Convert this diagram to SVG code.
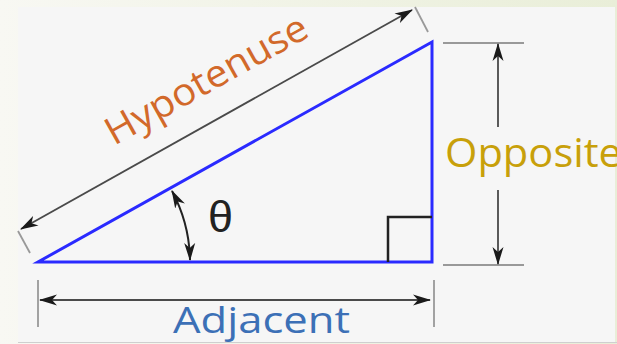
<svg xmlns="http://www.w3.org/2000/svg" width="617" height="344" viewBox="0 0 617 344">
  <defs>
    <linearGradient id="bg" x1="0" y1="0" x2="1" y2="0">
      <stop offset="0" stop-color="#f8f8f3"/>
      <stop offset="1" stop-color="#e9eed8"/>
    </linearGradient>
    <marker id="arr" viewBox="0 0 18 12" refX="17" refY="6" markerWidth="18" markerHeight="12" markerUnits="userSpaceOnUse" orient="auto-start-reverse">
      <path d="M0,0.5 L18,6 L0,11.5 L5,6 Z" fill="#1a1a1a"/>
    </marker>
    <style>
      .dim { stroke: #4a4a4a; stroke-width: 1.8; fill: none; }
      .ext { stroke: #999; stroke-width: 1.8; fill: none; }
      .lbl { font-family: "Comic Sans MS", "Open Sans", "DejaVu Sans", sans-serif; }
    </style>
  </defs>
  <rect x="0" y="0" width="617" height="344" fill="url(#bg)"/>
  <rect x="18" y="7" width="597" height="335" fill="#f6f6f6"/>
  <line x1="18" y1="342.5" x2="617" y2="342.5" stroke="#cfcfcf" stroke-width="1"/>

  <g id="triangle">
    <polygon points="38,262 432,262 432,42" fill="none" stroke="#2a2aff" stroke-width="3" stroke-linejoin="miter"/>
    <polyline points="388,262 388,217 432,217" fill="none" stroke="#222" stroke-width="2.5"/>
  </g>

  <g id="connectors">
    <!-- hypotenuse dimension -->
    <line class="ext" x1="18" y1="231" x2="30" y2="253"/>
    <line class="ext" x1="415" y1="7" x2="428" y2="32"/>
    <line class="dim" x1="21" y1="229" x2="412" y2="10" marker-start="url(#arr)" marker-end="url(#arr)"/>
    <!-- opposite dimension -->
    <line class="ext" x1="443" y1="43" x2="524" y2="43"/>
    <line class="ext" x1="443" y1="265" x2="524" y2="265"/>
    <line class="dim" x1="498" y1="127" x2="498" y2="44" marker-end="url(#arr)"/>
    <line class="dim" x1="498" y1="190" x2="498" y2="264" marker-end="url(#arr)"/>
    <!-- adjacent dimension -->
    <line class="ext" x1="38" y1="280" x2="38" y2="327"/>
    <line class="ext" x1="434" y1="280" x2="434" y2="327"/>
    <line class="dim" x1="40" y1="300" x2="430" y2="300" marker-start="url(#arr)" marker-end="url(#arr)"/>
    <!-- angle arc -->
    <path d="M172,191 A152,152 0 0 1 190,260" fill="none" stroke="#222" stroke-width="2" marker-start="url(#arr)" marker-end="url(#arr)"/>
  </g>

  <g id="hypotenuse-label">
    <text class="lbl" transform="translate(114,146) rotate(-29.2)" font-size="38" fill="#d2692a" textLength="226" lengthAdjust="spacingAndGlyphs">Hypotenuse</text>
  </g>
  <g id="opposite-label">
    <text class="lbl" x="445" y="167" font-size="40" fill="#c8a00a" textLength="177" lengthAdjust="spacingAndGlyphs">Opposite</text>
  </g>
  <g id="adjacent-label">
    <text class="lbl" x="173" y="333" font-size="37" fill="#3c70b6" textLength="177" lengthAdjust="spacingAndGlyphs">Adjacent</text>
  </g>
  <g id="theta-label">
    <text x="208" y="232" font-family="Liberation Sans, Arial, sans-serif" font-size="45" fill="#222">θ</text>
  </g>
</svg>
